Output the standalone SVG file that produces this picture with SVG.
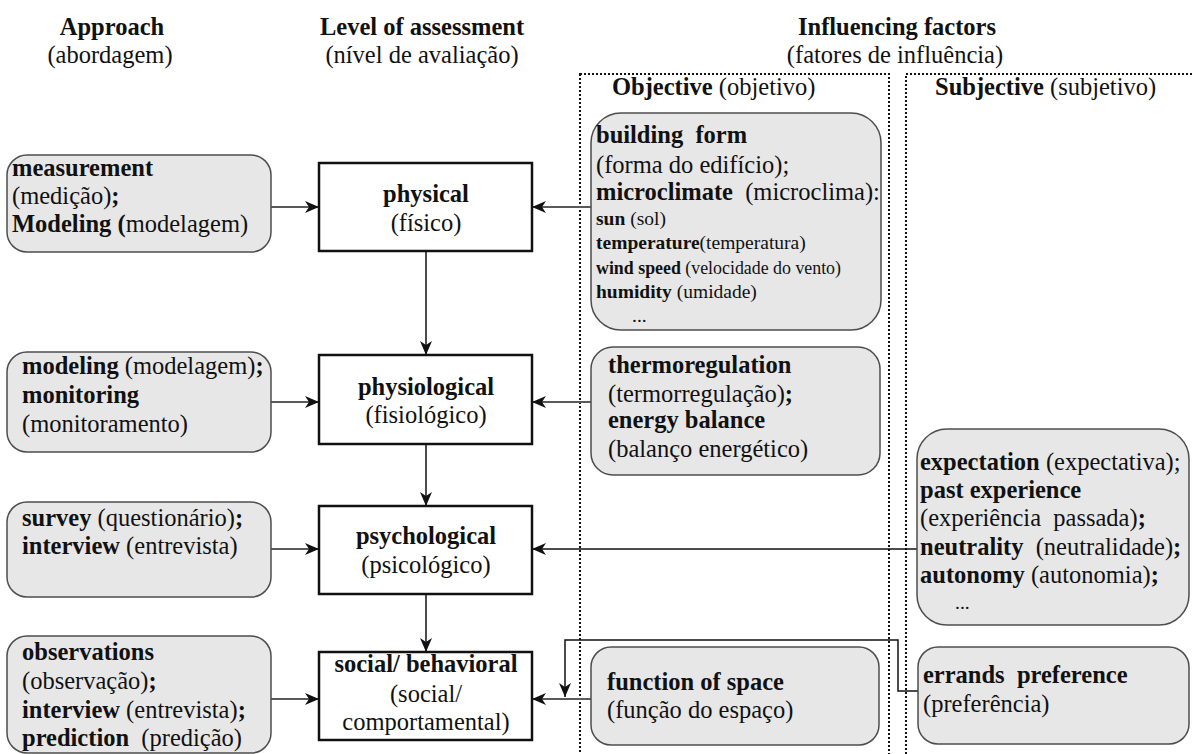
<svg xmlns="http://www.w3.org/2000/svg" width="1192" height="754" viewBox="0 0 1192 754">
<defs>
<style>
text{font-family:"Liberation Serif","Times New Roman",serif;font-size:24.5px;fill:#111}
.b{font-weight:bold}
.s{font-size:19.5px}
.c{text-anchor:middle}
.grey{fill:#e7e7e7;stroke:#4d4d4d;stroke-width:1.5}
.lvl{fill:#fff;stroke:#111;stroke-width:2.5}
.dot{fill:none;stroke:#111;stroke-width:2;stroke-dasharray:2 2}
.h{fill:none;stroke:#5a5a5a;stroke-width:2}
.v{fill:none;stroke:#111;stroke-width:1.5}
</style>
<marker id="ah" viewBox="0 0 14 12" refX="14" refY="6" markerWidth="14" markerHeight="12" markerUnits="userSpaceOnUse" orient="auto">
<path d="M0,0 L14,6 L0,12 L4,6 z" fill="#111"/>
</marker>
</defs>
<rect width="1192" height="754" fill="#fff"/>

<g id="headers">
<text class="b c" x="112" y="35">Approach</text>
<text class="c" x="110" y="63">(abordagem)</text>
<text class="b c" x="422" y="35">Level of assessment</text>
<text class="c" x="422" y="63">(nível de avaliação)</text>
<text class="b c" x="897" y="35">Influencing factors</text>
<text class="c" x="895" y="63">(fatores de influência)</text>
</g>

<g id="objective-region">
<rect class="dot" x="580" y="74" width="309" height="700"/>
<text x="612" y="95"><tspan class="b">Objective</tspan> (objetivo)</text>
</g>
<g id="subjective-region">
<rect class="dot" x="906" y="74" width="300" height="700"/>
<text x="935" y="95"><tspan class="b">Subjective</tspan> (subjetivo)</text>
</g>

<g id="connectors">
<path class="h" d="M271,207 H319" marker-end="url(#ah)"/>
<path class="h" d="M591,207 H532" marker-end="url(#ah)"/>
<path class="v" d="M426,251 V355" marker-end="url(#ah)"/>
<path class="h" d="M271,402 H319" marker-end="url(#ah)"/>
<path class="h" d="M591,402 H532" marker-end="url(#ah)"/>
<path class="v" d="M426,444 V506" marker-end="url(#ah)"/>
<path class="h" d="M271,549 H319" marker-end="url(#ah)"/>
<path class="v" d="M917,549 H532" marker-end="url(#ah)"/>
<path class="v" d="M426,594 V652" marker-end="url(#ah)"/>
<path class="h" d="M271,699 H319" marker-end="url(#ah)"/>
<path class="h" d="M591,699 H532" marker-end="url(#ah)"/>
<path class="v" d="M918,691 H898 V640 H565 V697" marker-end="url(#ah)"/>
</g>

<g id="measurement">
<rect class="grey" x="7" y="155" width="264" height="97" rx="20"/>
<text x="12" y="176" class="b">measurement</text>
<text x="12" y="204">(medição)<tspan class="b">;</tspan></text>
<text x="12" y="232"><tspan class="b">Modeling (</tspan>modelagem)</text>
</g>
<g id="modeling">
<rect class="grey" x="7" y="352" width="264" height="100" rx="20"/>
<text x="22" y="374"><tspan class="b">modeling</tspan> (modelagem)<tspan class="b">;</tspan></text>
<text x="22" y="403" class="b">monitoring</text>
<text x="22" y="432">(monitoramento)</text>
</g>
<g id="survey">
<rect class="grey" x="7" y="502" width="264" height="95" rx="20"/>
<text x="22" y="526"><tspan class="b">survey</tspan> (questionário)<tspan class="b">;</tspan></text>
<text x="22" y="554"><tspan class="b">interview</tspan> (entrevista)</text>
</g>
<g id="observations">
<rect class="grey" x="7" y="636" width="264" height="117" rx="20"/>
<text x="22" y="660" class="b">observations</text>
<text x="22" y="689">(observação)<tspan class="b">;</tspan></text>
<text x="22" y="718"><tspan class="b">interview</tspan> (entrevista)<tspan class="b">;</tspan></text>
<text x="22" y="746" xml:space="preserve"><tspan class="b">prediction</tspan>  (predição)</text>
</g>

<g id="physical">
<rect class="lvl" x="319" y="163" width="213" height="88"/>
<text class="b c" x="426" y="202">physical</text>
<text class="c" x="426" y="231">(físico)</text>
</g>
<g id="physiological">
<rect class="lvl" x="319" y="355" width="213" height="89"/>
<text class="b c" x="426" y="395">physiological</text>
<text class="c" x="426" y="423">(fisiológico)</text>
</g>
<g id="psychological">
<rect class="lvl" x="319" y="506" width="213" height="88"/>
<text class="b c" x="426" y="544">psychological</text>
<text class="c" x="426" y="573">(psicológico)</text>
</g>
<g id="social">
<rect class="lvl" x="319" y="652" width="213" height="88"/>
<text class="b c" x="426" y="672">social/ behavioral</text>
<text class="c" x="426" y="702">(social/</text>
<text class="c" x="426" y="730">comportamental)</text>
</g>

<g id="building-form">
<rect class="grey" x="591" y="113" width="290" height="217" rx="30"/>
<text x="596" y="143" class="b" xml:space="preserve">building  form</text>
<text x="596" y="173">(forma do edifício);</text>
<text x="596" y="200" xml:space="preserve"><tspan class="b">microclimate</tspan>  (microclima):</text>
<text x="596" y="225" class="s"><tspan class="b">sun</tspan> (sol)</text>
<text x="596" y="249" class="s"><tspan class="b">temperature</tspan>(temperatura)</text>
<text x="596" y="274" class="s" textLength="245" lengthAdjust="spacingAndGlyphs"><tspan class="b">wind speed</tspan> (velocidade do vento)</text>
<text x="596" y="298" class="s"><tspan class="b">humidity</tspan> (umidade)</text>
<text x="632" y="322" class="s">...</text>
</g>
<g id="thermoregulation">
<rect class="grey" x="591" y="347" width="289" height="128" rx="22"/>
<text x="608" y="373" class="b">thermoregulation</text>
<text x="608" y="402">(termorregulação)<tspan class="b">;</tspan></text>
<text x="608" y="428" class="b">energy balance</text>
<text x="608" y="457">(balanço energético)</text>
</g>
<g id="function-of-space">
<rect class="grey" x="591" y="647" width="288" height="98" rx="20"/>
<text x="607" y="690" class="b">function of space</text>
<text x="607" y="718">(função do espaço)</text>
</g>

<g id="expectation">
<rect class="grey" x="917" y="429" width="272" height="196" rx="30"/>
<text x="920" y="470"><tspan class="b">expectation</tspan> (expectativa);</text>
<text x="920" y="498" class="b">past experience</text>
<text x="920" y="526" xml:space="preserve">(experiência  passada)<tspan class="b">;</tspan></text>
<text x="920" y="555" xml:space="preserve"><tspan class="b">neutrality</tspan>  (neutralidade)<tspan class="b">;</tspan></text>
<text x="920" y="583"><tspan class="b">autonomy</tspan> (autonomia)<tspan class="b">;</tspan></text>
<text x="955" y="609" class="s">...</text>
</g>
<g id="errands">
<rect class="grey" x="918" y="647" width="271" height="97" rx="20"/>
<text x="923" y="683" class="b" xml:space="preserve">errands  preference</text>
<text x="923" y="712">(preferência)</text>
</g>
</svg>
